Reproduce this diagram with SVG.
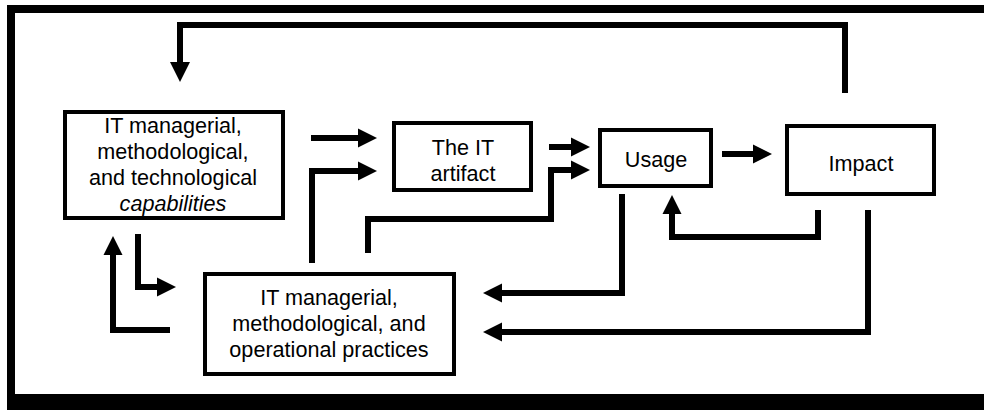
<svg xmlns="http://www.w3.org/2000/svg" width="984" height="410" viewBox="0 0 984 410">
  <style>
    .box { fill: #fff; stroke: #000; stroke-width: 4; }
    .lbl { font-family: "Liberation Sans", Arial, sans-serif; font-size: 21.6px; fill: #000; text-anchor: middle; }
    .conn { fill: none; stroke: #000; stroke-width: 6; stroke-linejoin: miter; stroke-linecap: butt; }
  </style>
  <defs>
    <marker id="head" markerUnits="userSpaceOnUse" markerWidth="19" markerHeight="19" refX="0" refY="9.5" orient="auto" overflow="visible">
      <path d="M0,0 L19,9.5 L0,19 Z" fill="#000"/>
    </marker>
    <marker id="headBig" markerUnits="userSpaceOnUse" markerWidth="20" markerHeight="20" refX="0" refY="10" orient="auto" overflow="visible">
      <path d="M0,0 L20,10 L0,20 Z" fill="#000"/>
    </marker>
  </defs>

  <rect width="984" height="410" fill="#fff"/>

  <!-- outer frame: left, top and bottom bands -->
  <g id="frame" fill="#000">
    <rect x="7" y="5" width="977" height="8"/>
    <rect x="7" y="5" width="8" height="405"/>
    <rect x="7" y="394" width="977" height="16"/>
  </g>

  <g id="connectors">
    <path class="conn" d="M845,93 V25 H180 V62" marker-end="url(#headBig)"/>
    <path class="conn" d="M311,138 H358" marker-end="url(#head)"/>
    <path class="conn" d="M312,263 V171 H358" marker-end="url(#head)"/>
    <path class="conn" d="M549,147 H571" marker-end="url(#head)"/>
    <path class="conn" d="M368,253 V219 H551 V170 H571" marker-end="url(#head)"/>
    <path class="conn" d="M722,154 H753" marker-end="url(#head)"/>
    <path class="conn" d="M818,210 V237 H672 V214" marker-end="url(#head)"/>
    <path class="conn" d="M622,194 V293 H502" marker-end="url(#head)"/>
    <path class="conn" d="M868,210 V332 H502" marker-end="url(#head)"/>
    <path class="conn" d="M170,330 H113 V255" marker-end="url(#head)"/>
    <path class="conn" d="M138,234 V287 H157" marker-end="url(#head)"/>
  </g>

  <g id="capabilities">
    <rect class="box" x="65" y="112" width="218" height="106"/>
    <text class="lbl" x="173" y="133">IT managerial,</text>
    <text class="lbl" x="173" y="159">methodological,</text>
    <text class="lbl" x="173" y="185">and technological</text>
    <text class="lbl" x="173" y="211" font-style="italic">capabilities</text>
  </g>

  <g id="artifact">
    <rect class="box" x="394" y="123" width="137" height="67"/>
    <text class="lbl" x="463" y="155">The IT</text>
    <text class="lbl" x="463" y="181">artifact</text>
  </g>

  <g id="usage">
    <rect class="box" x="600" y="130" width="111" height="56"/>
    <text class="lbl" x="656" y="167">Usage</text>
  </g>

  <g id="impact">
    <rect class="box" x="787" y="126" width="147" height="68"/>
    <text class="lbl" x="861" y="171">Impact</text>
  </g>

  <g id="practices">
    <rect class="box" x="205" y="274" width="249" height="100"/>
    <text class="lbl" x="329" y="305">IT managerial,</text>
    <text class="lbl" x="329" y="331">methodological, and</text>
    <text class="lbl" x="329" y="357">operational practices</text>
  </g>
</svg>
